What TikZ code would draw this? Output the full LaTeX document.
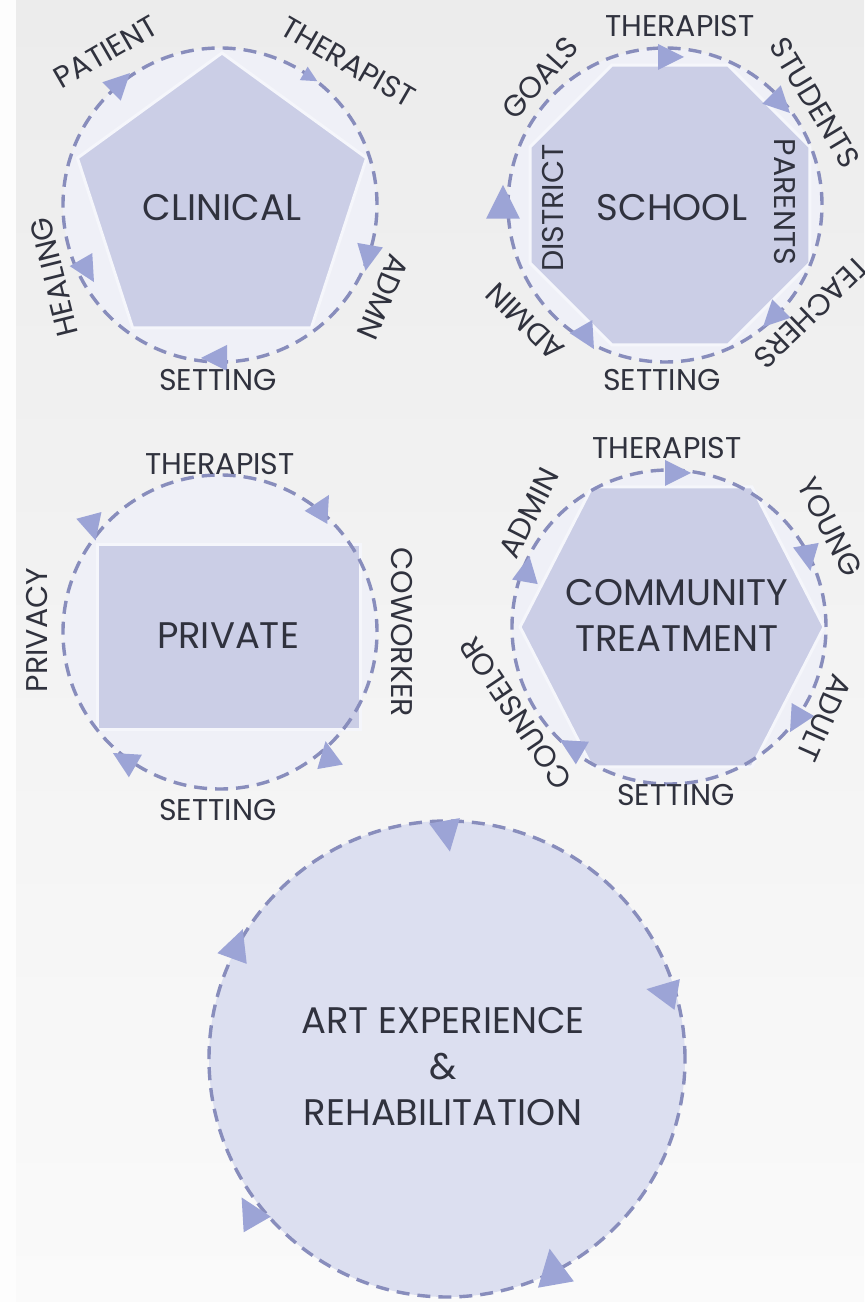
\documentclass[tikz,border=0pt]{standalone}
\usepackage{fontspec}
\setmainfont{Poppins}
\usepackage{tikz}

\definecolor{bgtop}{RGB}{236,236,236}
\definecolor{bgbot}{RGB}{250,250,250}
\definecolor{ringcol}{RGB}{136,141,188}
\definecolor{tipcol}{RGB}{156,164,214}
\definecolor{shapecol}{RGB}{203,206,230}
\definecolor{edgecol}{RGB}{245,246,251}
\definecolor{innercol}{RGB}{239,240,247}
\definecolor{bigcol}{RGB}{220,223,240}
\definecolor{inkcol}{RGB}{48,50,62}

\begin{document}
\begin{tikzpicture}[x=0.5pt,y=0.5pt,
  ring/.style={draw=ringcol, line width=1.7pt, dash pattern=on 6.5pt off 4pt},
  blob/.style={fill=shapecol, draw=edgecol, line width=1.5pt},
  title/.style={text=inkcol, font=\fontsize{18.5}{23}\selectfont, align=center},
  lbl/.style={text=inkcol, font=\fontsize{15}{17}\selectfont, inner sep=0pt},
  flowtip/.pic={\fill[tipcol] (14,0) -- (-12,13) -- (-12,-13) -- cycle;}]

\shade[top color=bgtop, bottom color=bgbot] (0,0) rectangle (864,1302);
\fill[white!60!bgbot] (0,0) rectangle (16,1302);
\useasboundingbox (0,0) rectangle (864,1302);

% clinical
\coordinate (cl) at (220,1097);
\coordinate (cl-mid) at (222,1097);
\fill[innercol] (cl) circle (157);
\path[blob] (cl-mid) +(90:152) \foreach \a in {162,234,306,18} { -- +(\a:152) } -- cycle;
\draw[ring] (cl) circle (157);
\pic[rotate=45] at (120,1219) {flowtip};
\pic[rotate=-30, scale=0.6] at (310,1225) {flowtip};
\pic[rotate=-100] at (368,1045) {flowtip};
\pic[rotate=180] at (215,944) {flowtip};
\pic[rotate=-60] at (87,1032) {flowtip};
\node[title] (clinical) at (222,1094) {CLINICAL};
\node[lbl, rotate=30] (cl-patient) at (106,1250) {PATIENT};
\node[lbl, rotate=-30] (cl-therapist) at (348,1240) {THERAPIST};
\node[lbl, rotate=-113] (cl-admn) at (383,1005) {ADMN};
\node[lbl] (cl-setting) at (218,922) {SETTING};
\node[lbl, rotate=104] (cl-healing) at (54,1025) {HEALING};

% school
\coordinate (sc) at (665,1097);
\coordinate (sc-mid) at (670,1097);
\fill[innercol] (sc) circle (157);
\path[blob] (sc-mid) +(22.5:151.5) \foreach \a in {67.5,112.5,...,337.5} { -- +(\a:151.5) } -- cycle;
\draw[ring] (sc) circle (157);
\pic at (670,1245) {flowtip};
\pic[rotate=-45] at (780,1199) {flowtip};
\pic[rotate=90, scale=1.3] at (503,1099) {flowtip};
\pic[rotate=-60] at (587,965) {flowtip};
\pic[rotate=-135] at (773,985) {flowtip};
\node[title] (school) at (672,1094) {SCHOOL};
\node[lbl] (sc-therapist) at (680,1276) {THERAPIST};
\node[lbl, rotate=48] (sc-goals) at (540,1224) {GOALS};
\node[lbl, rotate=-59] (sc-students) at (815,1199) {STUDENTS};
\node[lbl, rotate=-136] (sc-teachers) at (812,990) {TEACHERS};
\node[lbl, rotate=136] (sc-admin) at (525,980) {ADMIN};
\node[lbl] (sc-setting) at (662,922) {SETTING};
\node[lbl, rotate=90] (sc-district) at (553,1094) {DISTRICT};
\node[lbl, rotate=-90] (sc-parents) at (785,1100) {PARENTS};

% private
\coordinate (pr) at (220,670);
\fill[innercol] (pr) circle (157);
\path[blob] (97,572) rectangle (360,757);
\draw[ring] (pr) circle (157);
\pic[rotate=-75] at (92,775) {flowtip};
\pic[rotate=60] at (322,795) {flowtip};
\pic[rotate=100] at (328,547) {flowtip};
\pic[rotate=150] at (125,542) {flowtip};
\node[title] (private) at (228,666) {PRIVATE};
\node[lbl] (pr-therapist) at (220,838) {THERAPIST};
\node[lbl, rotate=90] (pr-privacy) at (37,672) {PRIVACY};
\node[lbl, rotate=-90] (pr-coworker) at (402,670) {COWORKER};
\node[lbl] (pr-setting) at (218,492) {SETTING};

% community treatment
\coordinate (ct) at (669,675);
\coordinate (ct-mid) at (672,675);
\fill[innercol] (ct) circle (157);
\path[blob] (ct-mid) +(-152,0) -- +(-80,140) -- +(80,140) -- +(152,0) -- +(80,-140) -- +(-80,-140) -- cycle;
\draw[ring] (ct) circle (157);
\pic at (677,829) {flowtip};
\pic[rotate=-80] at (808,745) {flowtip};
\pic[rotate=80] at (527,732) {flowtip};
\pic[rotate=-120] at (797,582) {flowtip};
\pic[rotate=150] at (572,555) {flowtip};
\node[title] (community) at (677,687) {COMMUNITY\\TREATMENT};
\node[lbl] (ct-therapist) at (667,854) {THERAPIST};
\node[lbl, rotate=63] (ct-admin) at (529,789) {ADMIN};
\node[lbl, rotate=-63] (ct-young) at (830,775) {YOUNG};
\node[lbl, rotate=-114] (ct-adult) at (824,584) {ADULT};
\node[lbl, rotate=124] (ct-counselor) at (516,589) {COUNSELOR};
\node[lbl] (ct-setting) at (676,507) {SETTING};

% art experience
\coordinate (ar) at (447,243);
\fill[bigcol] (ar) circle (238);
\draw[ring] (ar) circle (238);
\pic[rotate=-80, scale=1.2] at (447,467) {flowtip};
\pic[rotate=170, scale=1.2] at (663,310) {flowtip};
\pic[rotate=70, scale=1.2] at (237,357) {flowtip};
\pic[rotate=120, scale=1.2] at (250,90) {flowtip};
\pic[rotate=100, scale=1.4] at (553,34) {flowtip};
\node[title] (art) at (443,235) {ART EXPERIENCE\\\&\\REHABILITATION};
\end{tikzpicture}
\end{document}
